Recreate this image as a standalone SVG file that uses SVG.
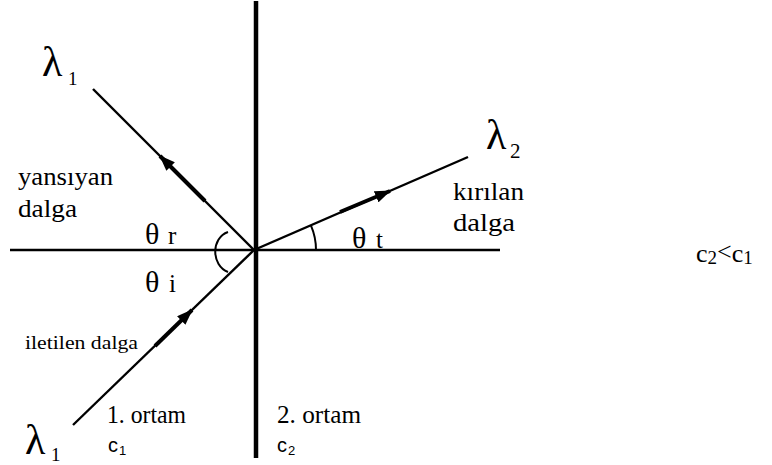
<svg xmlns="http://www.w3.org/2000/svg" width="772" height="465" viewBox="0 0 772 465">
<style>
.t{font-family:"Liberation Serif","Times New Roman",serif;fill:#000}
.s{font-family:"Liberation Sans",Arial,sans-serif;fill:#000}
.ln{stroke:#000;fill:none;stroke-linecap:butt}
.ray{stroke:#000;stroke-width:2.4;fill:none}
.arr{stroke:#000;stroke-width:4;fill:none}
</style>
<defs>
<marker id="ah" markerUnits="userSpaceOnUse" markerWidth="16" markerHeight="12" viewBox="0 0 16 12" refX="15" refY="6" orient="auto">
<path d="M0,0 L16,6 L0,12 Z" fill="#000"/>
</marker>
</defs>
<rect width="772" height="465" fill="#fff"/>
<g id="axes">
<line class="ln" x1="256" y1="1" x2="256" y2="458" stroke-width="4.5"/>
<line class="ln" x1="10" y1="250" x2="500" y2="250" stroke-width="2.6"/>
</g>
<g id="connectors">
<line class="ray" x1="254" y1="250" x2="93" y2="89"/>
<line class="arr" x1="205" y1="201" x2="160" y2="156" marker-end="url(#ah)"/>
<line class="ray" x1="73" y1="425" x2="254" y2="250"/>
<line class="arr" x1="155" y1="346" x2="192" y2="310" marker-end="url(#ah)"/>
<line class="ray" x1="254" y1="250" x2="468" y2="157"/>
<line class="arr" x1="340" y1="212" x2="390" y2="191" marker-end="url(#ah)"/>
<path class="ln" stroke-width="2" d="M228,232 C211,238 211,265 228,272"/>
<path class="ln" stroke-width="2" d="M316,250 A62,62 0 0 0 310.9,225.3"/>
</g>
<g id="lambda1-top">
<text class="t" x="42" y="76" font-size="42">λ</text>
<text class="t" x="68" y="85" font-size="19">1</text>
</g>
<g id="lambda2">
<text class="t" x="486" y="149" font-size="42">λ</text>
<text class="t" x="510" y="158" font-size="21">2</text>
</g>
<g id="lambda1-bottom">
<text class="t" x="25" y="454" font-size="42">λ</text>
<text class="t" x="51" y="461" font-size="19">1</text>
</g>
<g id="reflected-label">
<text class="t" x="18" y="185" font-size="25" textLength="95" lengthAdjust="spacingAndGlyphs">yansıyan</text>
<text class="t" x="18" y="217" font-size="25" textLength="59" lengthAdjust="spacingAndGlyphs">dalga</text>
</g>
<g id="refracted-label">
<text class="t" x="453" y="200" font-size="25" textLength="71" lengthAdjust="spacingAndGlyphs">kırılan</text>
<text class="t" x="453" y="231" font-size="25" textLength="62" lengthAdjust="spacingAndGlyphs">dalga</text>
</g>
<g id="incident-label">
<text class="t" x="25" y="349" font-size="18" textLength="113" lengthAdjust="spacingAndGlyphs">iletilen dalga</text>
</g>
<g id="theta-r">
<text class="t" x="145" y="244" font-size="30">θ</text>
<text class="t" x="168" y="244" font-size="25">r</text>
</g>
<g id="theta-i">
<text class="t" x="145" y="292" font-size="30">θ</text>
<text class="t" x="169" y="292" font-size="25">i</text>
</g>
<g id="theta-t">
<text class="t" x="352" y="248" font-size="30">θ</text>
<text class="t" x="376" y="248" font-size="25">t</text>
</g>
<g id="medium1">
<text class="t" x="107" y="423" font-size="25" textLength="79" lengthAdjust="spacingAndGlyphs">1. ortam</text>
<text class="s" x="108" y="452" font-size="20">c</text>
<text class="s" x="119" y="455" font-size="13">1</text>
</g>
<g id="medium2">
<text class="t" x="277" y="423" font-size="25" textLength="84" lengthAdjust="spacingAndGlyphs">2. ortam</text>
<text class="s" x="277" y="452" font-size="20">c</text>
<text class="s" x="288" y="455" font-size="13">2</text>
</g>
<g id="relation">
<text class="t" x="696" y="262" font-size="26">c<tspan font-size="19" dy="2">2</tspan><tspan font-size="26" dy="-4">&lt;</tspan><tspan dy="2">c</tspan><tspan font-size="19" dy="2">1</tspan></text>
</g>
</svg>
